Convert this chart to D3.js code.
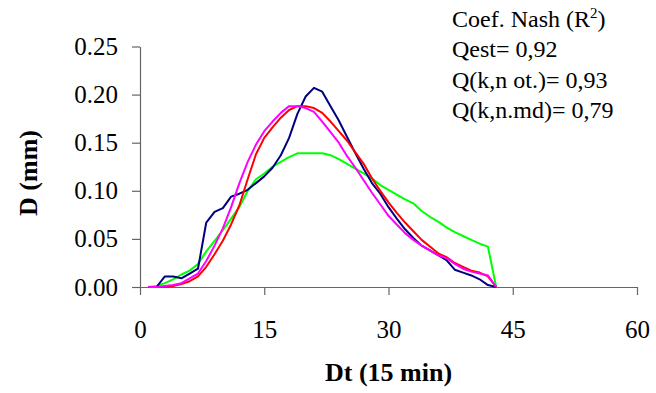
<!DOCTYPE html>
<html>
<head>
<meta charset="utf-8">
<style>
body { margin: 0; background: #fff; }
svg { display: block; }
.axis path, .axis line { stroke: #666; stroke-width: 1.2px; }
.serie { fill: none; stroke-width: 2px; stroke-linejoin: round; }
</style>
</head>
<body>
<svg width="656" height="393" font-family="'Liberation Serif', 'DejaVu Serif', serif"></svg>
<script src="https://cdnjs.cloudflare.com/ajax/libs/d3/7.8.5/d3.min.js"></script>
<script>

// time steps (Dt, 15 min)
var dt = d3.range(1, 44);

// observed
var qObs = [0, 0, 0.011, 0.011, 0.009, 0.014, 0.019, 0.067, 0.078, 0.082,
            0.094, 0.097, 0.101, 0.108, 0.115, 0.124, 0.137, 0.155, 0.180, 0.198,
            0.207, 0.203, 0.188, 0.173, 0.156, 0.139, 0.123, 0.108, 0.097, 0.083,
            0.071, 0.060, 0.051, 0.043, 0.038, 0.033, 0.028, 0.018, 0.015, 0.012,
            0.008, 0.002, 0];
// Qest
var qEst = [0, 0, 0, 0.001, 0.003, 0.006, 0.011, 0.021, 0.034, 0.048,
            0.065, 0.085, 0.112, 0.138, 0.155, 0.166, 0.176, 0.184, 0.188, 0.188,
            0.186, 0.181, 0.172, 0.162, 0.152, 0.140, 0.128, 0.113, 0.100, 0.088,
            0.077, 0.067, 0.058, 0.049, 0.042, 0.035, 0.031, 0.025, 0.021, 0.017,
            0.015, 0.011, 0];
// Q(k,n ot.)
var qOt = [0, 0, 0.001, 0.002, 0.004, 0.009, 0.014, 0.027, 0.043, 0.061,
           0.083, 0.108, 0.130, 0.148, 0.162, 0.172, 0.181, 0.188, 0.188, 0.186,
           0.182, 0.172, 0.161, 0.150, 0.136, 0.124, 0.111, 0.098, 0.086, 0.074,
           0.065, 0.056, 0.049, 0.043, 0.038, 0.033, 0.030, 0.024, 0.019, 0.016,
           0.014, 0.012, 0];
// Q(k,n.md)
var qMd = [0, 0.001, 0.004, 0.008, 0.013, 0.017, 0.024, 0.037, 0.048, 0.059,
           0.071, 0.083, 0.100, 0.112, 0.118, 0.125, 0.130, 0.135, 0.139, 0.139,
           0.139, 0.139, 0.137, 0.133, 0.128, 0.123, 0.118, 0.113, 0.106, 0.101,
           0.096, 0.091, 0.087, 0.079, 0.073, 0.068, 0.062, 0.057, 0.053, 0.049,
           0.045, 0.042, 0];

var xTicks = [0, 15, 30, 45, 60];
var yTicks = [0, 0.05, 0.10, 0.15, 0.20, 0.25];
var notes = ["Qest= 0,92", "Q(k,n ot.)= 0,93", "Q(k,n.md)= 0,79"];

var series = [
  {values: qMd, color: "#00ff00"},
  {values: qObs, color: "#000080"},
  {values: qEst, color: "#ff0000"},
  {values: qOt, color: "#ff00ff"}
];

var serif = "'Liberation Serif', 'DejaVu Serif', serif";

var svg = d3.select("svg"),
    margin = {left: 140, top: 46.5},
    width = 497,
    height = 240.5,
    g = svg.append("g").attr("transform", "translate(" + margin.left + "," + margin.top + ")");

var x = d3.scaleLinear().domain([0, 60]).range([0, width]);
var y = d3.scaleLinear().domain([0, 0.25]).range([height, 0]);

g.append("g")
    .attr("class", "axis")
    .attr("transform", "translate(0," + height + ")")
    .call(d3.axisBottom(x).tickValues(xTicks).tickSize(8).tickSizeOuter(0).tickPadding(25))
    .attr("font-family", serif)
    .attr("font-size", 25);

g.append("g")
    .attr("class", "axis")
    .call(d3.axisLeft(y).tickValues(yTicks).tickFormat(d3.format(".2f")).tickSize(8).tickSizeOuter(0).tickPadding(14))
    .attr("font-family", serif)
    .attr("font-size", 25);

g.selectAll(".axis text").attr("fill", "#000");

var line = d3.line()
    .x(function(d, i) { return x(dt[i]); })
    .y(function(d) { return y(d); });

g.selectAll(".serie")
  .data(series)
  .enter().append("path")
    .attr("class", "serie")
    .attr("stroke", function(d) { return d.color; })
    .attr("d", function(d) { return line(d.values); });

svg.append("text")
    .attr("font-family", serif)
    .attr("font-size", 26)
    .attr("font-weight", "bold")
    .attr("text-anchor", "middle")
    .attr("x", margin.left + x(30))
    .attr("y", 381)
    .text("Dt (15 min)");

svg.append("text")
    .attr("font-family", serif)
    .attr("font-size", 26)
    .attr("font-weight", "bold")
    .attr("text-anchor", "middle")
    .attr("transform", "translate(37,173) rotate(-90)")
    .text("D (mm)");

var t1 = svg.append("text")
    .attr("font-family", serif)
    .attr("font-size", 24)
    .attr("x", 452)
    .attr("y", 26.5);
t1.append("tspan").text("Coef. Nash (R");
t1.append("tspan").attr("font-size", 15).attr("dy", -9).text("2");
t1.append("tspan").attr("dy", 9).text(")");

svg.selectAll(".line-note")
  .data(notes)
  .enter().append("text")
    .attr("class", "line-note")
    .attr("font-family", serif)
    .attr("font-size", 24)
    .attr("x", 452)
    .attr("y", function(d, i) { return 57 + i * 30.7; })
    .text(function(d) { return d; });

</script>
</body>
</html>
